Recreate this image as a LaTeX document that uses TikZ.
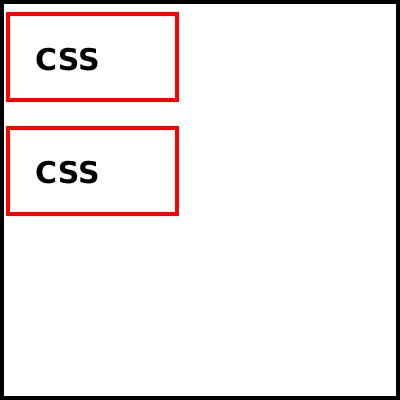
\documentclass[tikz,border=0pt]{standalone}
\usepackage{fontspec}
\setmainfont{DejaVu Sans}
\usetikzlibrary{positioning}

\begin{document}
\begin{tikzpicture}[x=1pt, y=-1pt, font=\bfseries\fontsize{30}{34}\selectfont,
frame/.style={draw=black, line width=4pt},
cssbox/.style={draw=red, line width=4pt, minimum width=169pt, minimum height=86pt, inner sep=0pt},
csstext/.style={anchor=base west, inner sep=0pt}]
\useasboundingbox (0,0) rectangle (400,400);
\node[frame, minimum width=396pt, minimum height=396pt, inner sep=0pt] (outer) at (200,200) {};
\node[cssbox] (box1) at (92.5,57) {};
\node[cssbox] (box2) at (92.5,170.5) {};
\node[csstext] (lbl1) at (35,70) {CSS};
\node[csstext] (lbl2) at (35,183) {CSS};
\end{tikzpicture}
\end{document}
